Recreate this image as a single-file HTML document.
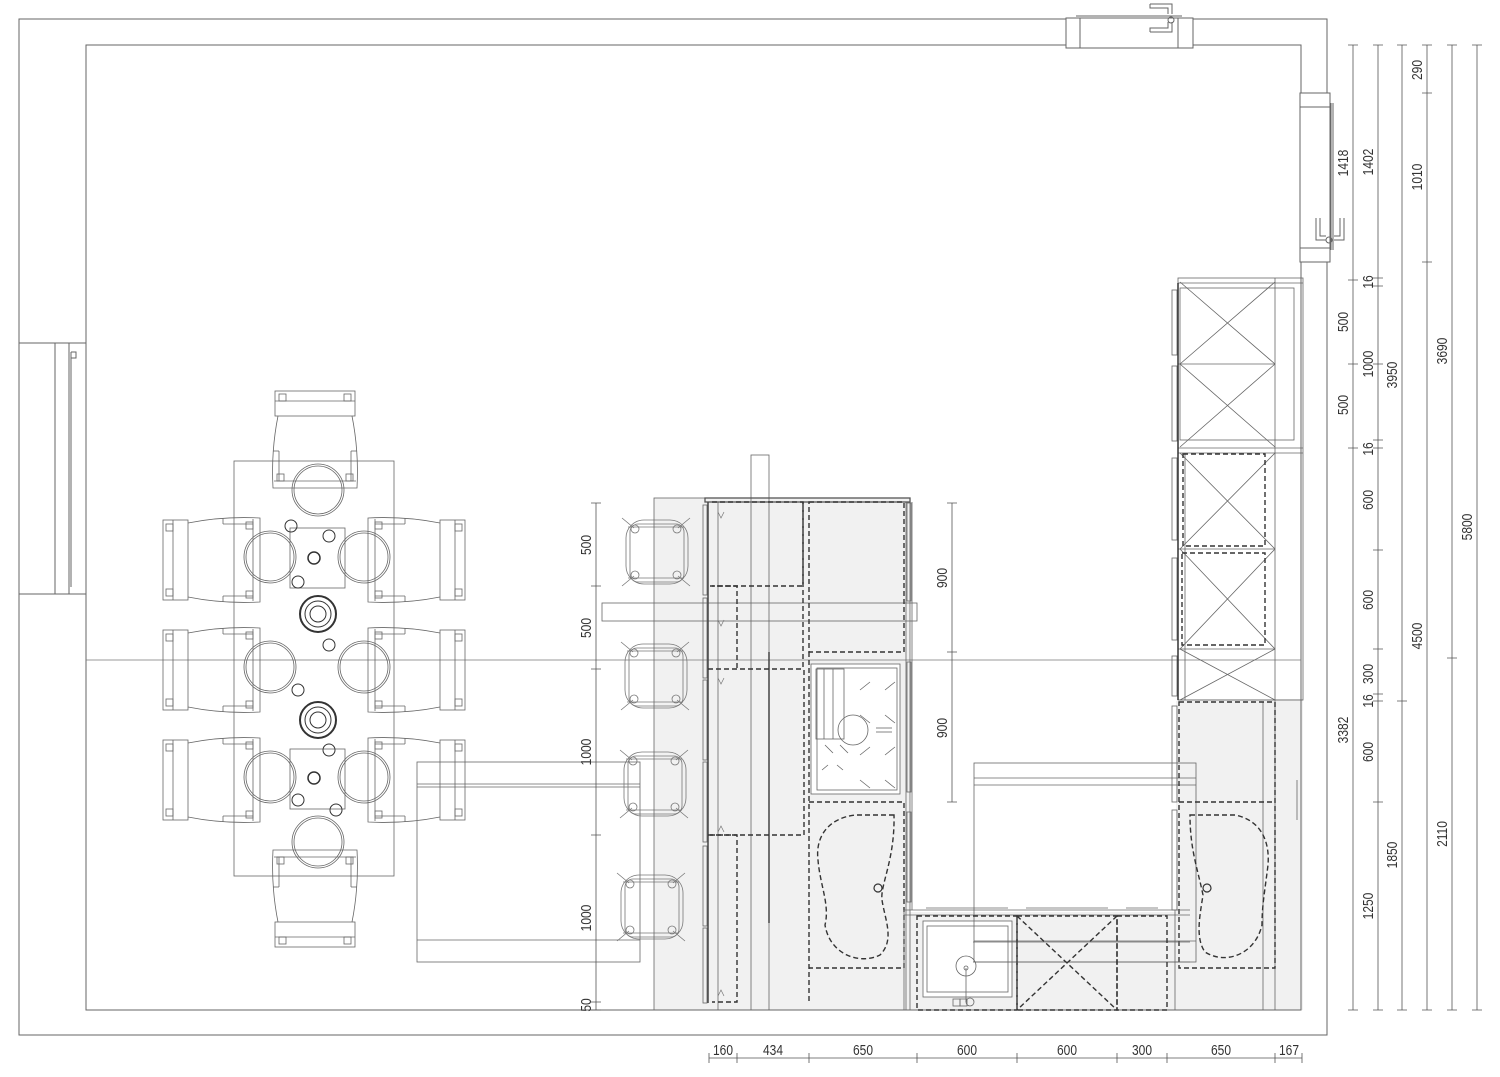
<!DOCTYPE html>
<html><head><meta charset="utf-8"><style>html,body{margin:0;padding:0;background:#fff}svg{display:block}text{font-family:"Liberation Sans Narrow","Liberation Sans",sans-serif;font-size:15px;fill:#333}</style></head><body>
<svg width="1500" height="1077" viewBox="0 0 1500 1077" xmlns="http://www.w3.org/2000/svg">
<defs>
<g id="chair" fill="none" stroke="#666" stroke-width="0.8">
<rect x="0" y="4" width="25" height="80"/>
<line x1="10" y1="4" x2="10" y2="84"/>
<path d="M25,7 Q60,0 97,2 L97,86 Q60,88 25,81"/>
<line x1="90" y1="3" x2="90" y2="85"/>
<line x1="60" y1="2" x2="60" y2="8"/><line x1="60" y1="8" x2="90" y2="8"/>
<line x1="60" y1="86" x2="60" y2="80"/><line x1="60" y1="80" x2="90" y2="80"/>
<rect x="3" y="8" width="7" height="7"/><rect x="3" y="73" width="7" height="7"/>
<rect x="83" y="6" width="7" height="7"/><rect x="83" y="75" width="7" height="7"/>
</g>
<g id="stool" fill="none" stroke="#777" stroke-width="0.8">
<rect x="-30" y="-32" width="62" height="64" rx="18"/>
<rect x="-26" y="-28" width="54" height="58" rx="8"/>
<line x1="-28" y1="-25" x2="28" y2="-25"/><line x1="-28" y1="26" x2="28" y2="26"/>
<line x1="-34" y1="-34" x2="-22" y2="-24"/><line x1="34" y1="-34" x2="22" y2="-24"/>
<line x1="-34" y1="34" x2="-22" y2="24"/><line x1="34" y1="34" x2="22" y2="24"/>
<circle cx="-21" cy="-23" r="4"/><circle cx="21" cy="-23" r="4"/>
<circle cx="-21" cy="23" r="4"/><circle cx="21" cy="23" r="4"/>
</g>
</defs>

<g fill="#f1f1f1" stroke="none">
<rect x="654" y="498" width="256" height="512"/>
<rect x="1176" y="701" width="127" height="309"/>
<rect x="910" y="912" width="266" height="98"/>
</g>
<rect x="811" y="664" width="89" height="130" fill="#fff"/>
<rect x="923" y="921" width="89" height="76" fill="#fff"/>

<g fill="none" stroke="#666" stroke-width="1">
<path d="M19,343 L19,19 L1066,19 M1193,19 L1327,19 L1327,93 M1327,262 L1327,1035 L19,1035 L19,594"/>
<path d="M86,343 L86,45 L1066,45 M1193,45 L1301,45 L1301,93 M1301,262 L1301,1010 L86,1010 L86,594"/>
<rect x="19" y="343" width="67" height="251"/>
<line x1="55" y1="343" x2="55" y2="594"/><line x1="69" y1="343" x2="69" y2="594"/>
<line x1="71" y1="352" x2="71" y2="587"/>
<path d="M71,352 h5 v6 h-5"/>
<rect x="1066" y="18" width="127" height="30"/>
<line x1="1080" y1="18" x2="1080" y2="48"/><line x1="1178" y1="18" x2="1178" y2="48"/>
<line x1="1076" y1="16" x2="1182" y2="16"/>
<path d="M1150,4 h22 v10 M1150,4 v4 h18 v6 M1150,32 h22 v-10 M1150,32 v-4 h18 v-6"/>
<circle cx="1171" cy="20" r="3"/>
<rect x="1300" y="93" width="30" height="169"/>
<line x1="1300" y1="107" x2="1330" y2="107"/><line x1="1300" y1="248" x2="1330" y2="248"/>
<line x1="1331" y1="103" x2="1331" y2="250"/><line x1="1333" y1="103" x2="1333" y2="250"/>
<path d="M1316,218 v22 h10 M1320,218 v18 h6 M1344,218 v22 h-10 M1340,218 v18 h-6"/>
<circle cx="1329" cy="240" r="3"/>
</g>

<line x1="86" y1="660" x2="1301" y2="660" stroke="#777" stroke-width="0.8"/>

<g fill="none" stroke="#666" stroke-width="0.8">
<rect x="234" y="461" width="160" height="415"/>
<rect x="290" y="528" width="55" height="60"/>
<rect x="290" y="749" width="55" height="60"/>
<g>
<circle cx="318" cy="490" r="26"/><circle cx="318" cy="490" r="24"/>
<circle cx="270" cy="557" r="26"/><circle cx="270" cy="557" r="24"/>
<circle cx="364" cy="557" r="26"/><circle cx="364" cy="557" r="24"/>
<circle cx="270" cy="667" r="26"/><circle cx="270" cy="667" r="24"/>
<circle cx="364" cy="667" r="26"/><circle cx="364" cy="667" r="24"/>
<circle cx="270" cy="777" r="26"/><circle cx="270" cy="777" r="24"/>
<circle cx="364" cy="777" r="26"/><circle cx="364" cy="777" r="24"/>
<circle cx="318" cy="842" r="26"/><circle cx="318" cy="842" r="24"/>
</g>
</g>
<g fill="none" stroke="#333">
<circle cx="318" cy="614" r="18" stroke-width="2"/><circle cx="318" cy="614" r="13"/><circle cx="318" cy="614" r="8"/>
<circle cx="318" cy="720" r="18" stroke-width="2"/><circle cx="318" cy="720" r="13"/><circle cx="318" cy="720" r="8"/>
<circle cx="314" cy="558" r="6" stroke-width="1.5"/><circle cx="314" cy="778" r="6" stroke-width="1.5"/>
<circle cx="291" cy="526" r="6"/><circle cx="329" cy="536" r="6"/><circle cx="298" cy="582" r="6"/>
<circle cx="329" cy="645" r="6"/><circle cx="298" cy="690" r="6"/>
<circle cx="329" cy="750" r="6"/><circle cx="298" cy="800" r="6"/><circle cx="336" cy="810" r="6"/>
</g>
<use href="#chair" transform="translate(163,516)"/>
<use href="#chair" transform="translate(163,626)"/>
<use href="#chair" transform="translate(163,736)"/>
<use href="#chair" transform="translate(465,516) scale(-1,1)"/>
<use href="#chair" transform="translate(465,626) scale(-1,1)"/>
<use href="#chair" transform="translate(465,736) scale(-1,1)"/>
<use href="#chair" transform="translate(359,391) rotate(90)"/>
<use href="#chair" transform="translate(271,947) rotate(-90)"/>

<g fill="none" stroke="#666" stroke-width="0.8">
<rect x="417" y="762" width="223" height="200"/>
<line x1="417" y1="784" x2="640" y2="784"/><line x1="417" y1="787" x2="640" y2="787"/>
<line x1="417" y1="940" x2="640" y2="940"/>
<rect x="974" y="763" width="222" height="199"/>
<line x1="974" y1="778" x2="1196" y2="778"/><line x1="974" y1="785" x2="1196" y2="785"/>
<line x1="974" y1="941" x2="1196" y2="941"/>
</g>

<use href="#stool" transform="translate(656,552)"/>
<use href="#stool" transform="translate(655,676)"/>
<use href="#stool" transform="translate(654,784)"/>
<use href="#stool" transform="translate(651,907)"/>

<g fill="none" stroke="#666" stroke-width="0.8">
<rect x="654" y="498" width="256" height="512"/>
<rect x="751" y="455" width="18" height="555"/>
<rect x="602" y="603" width="315" height="18"/>
<line x1="718" y1="502" x2="718" y2="1010"/>
<line x1="906" y1="502" x2="906" y2="1010"/>
<line x1="912" y1="502" x2="912" y2="910"/>
<rect x="703" y="505" width="4" height="90"/><rect x="703" y="598" width="4" height="80"/>
<rect x="703" y="680" width="4" height="80"/><rect x="703" y="762" width="4" height="80"/>
<rect x="703" y="846" width="4" height="80"/><rect x="703" y="928" width="4" height="75"/>
<rect x="907" y="503" width="4" height="98"/><rect x="907" y="662" width="4" height="130"/>
<rect x="907" y="812" width="4" height="90"/>
<rect x="811" y="664" width="89" height="130"/>
<rect x="817" y="668" width="80" height="122"/>
<rect x="816" y="669" width="28" height="70"/><line x1="824" y1="669" x2="824" y2="739"/><line x1="833" y1="669" x2="833" y2="739"/>
<circle cx="853" cy="730" r="15"/>
<path d="M860,690 l10,-8 M885,690 l10,-8 M860,715 l10,8 M885,715 l10,8 M825,745 l8,8 M840,745 l8,8 M860,755 l10,-8 M885,755 l10,-8 M860,780 l10,8 M885,780 l10,8 M822,770 l6,-5 M837,765 l6,5"/>
<line x1="876" y1="728" x2="892" y2="728"/><line x1="876" y1="732" x2="892" y2="732"/>
<rect x="705" y="498" width="205" height="4" fill="none" stroke="#555" stroke-width="1.3"/>
</g>
<line x1="708" y1="502" x2="708" y2="1003" stroke="#444" stroke-width="1.5"/>
<line x1="769" y1="652" x2="769" y2="923" stroke="#444" stroke-width="1.5"/>
<g fill="none" stroke="#333" stroke-width="1.4" stroke-dasharray="5,3">
<path d="M712,502 L803,502 L803,586 L712,586"/>
<path d="M809,502 L904,502 L904,652 L809,652 Z"/>
<path d="M803,502 L803,669"/>
<path d="M710,586 L737,586 L737,669 M708,669 L803,669"/>
<path d="M809,652 L809,1002"/>
<path d="M708,835 L804,835 L804,669"/>
<path d="M710,835 L737,835 L737,1002 L712,1002"/>
<path d="M809,802 L904,802 L904,968 L809,968"/>
<path d="M894,815 L855,815 C830,818 815,835 818,860 C820,885 830,905 825,925 C830,955 860,965 880,955 C895,940 885,920 882,900 C880,885 895,860 894,815 Z"/>
</g>
<circle cx="878" cy="888" r="4" fill="none" stroke="#333" stroke-width="1.2"/>
<path d="M718,512 l3,6 l3,-6 M718,620 l3,6 l3,-6 M718,678 l3,6 l3,-6 M718,832 l3,-6 l3,6 M718,996 l3,-6 l3,6" fill="none" stroke="#777" stroke-width="0.7"/>

<g fill="none" stroke="#666" stroke-width="0.8">
<rect x="1178" y="278" width="125" height="422"/>
<line x1="1178" y1="283" x2="1303" y2="283"/>
<line x1="1275" y1="278" x2="1275" y2="1010"/>
<rect x="1180" y="288" width="114" height="152"/>
<path d="M1180,282 L1275,364 M1275,282 L1180,364 M1180,364 L1275,447 M1275,364 L1180,447"/>
<line x1="1178" y1="364" x2="1275" y2="364"/>
<line x1="1178" y1="448" x2="1303" y2="448"/><line x1="1178" y1="453" x2="1303" y2="453"/>
<line x1="1178" y1="549" x2="1275" y2="549"/><line x1="1178" y1="649" x2="1275" y2="649"/>
<line x1="1178" y1="700" x2="1303" y2="700"/>
<line x1="1185" y1="453" x2="1185" y2="700"/>
<path d="M1180,453 L1275,549 M1275,453 L1180,549 M1180,549 L1275,649 M1275,549 L1180,649 M1180,649 L1275,700 M1275,649 L1180,700"/>
<rect x="1172" y="290" width="5" height="65"/><rect x="1172" y="366" width="5" height="75"/>
<rect x="1172" y="458" width="5" height="82"/><rect x="1172" y="558" width="5" height="82"/>
<rect x="1172" y="656" width="5" height="40"/><rect x="1172" y="706" width="5" height="96"/>
<rect x="1172" y="810" width="5" height="100"/>
<line x1="1263" y1="702" x2="1263" y2="1010"/>
<line x1="1297" y1="780" x2="1297" y2="820"/>
</g>
<line x1="1178" y1="283" x2="1178" y2="700" stroke="#333" stroke-width="1.5"/>
<g fill="none" stroke="#333" stroke-width="1.4" stroke-dasharray="5,3">
<rect x="1183" y="454" width="82" height="92"/>
<rect x="1182" y="553" width="83" height="92"/>
<path d="M1179,702 L1275,702 L1275,968 L1179,968 Z"/>
<path d="M1179,802 L1275,802"/>
<path d="M1190,815 L1235,815 C1260,820 1270,840 1268,865 C1265,890 1262,905 1262,925 C1255,955 1225,965 1205,952 C1195,938 1200,915 1203,895 C1198,870 1190,850 1190,815 Z"/>
</g>
<circle cx="1207" cy="888" r="4" fill="none" stroke="#333" stroke-width="1.2"/>

<g fill="none" stroke="#666" stroke-width="0.8">
<line x1="904" y1="910" x2="1190" y2="910"/><line x1="904" y1="915" x2="1190" y2="915"/>
<line x1="904" y1="910" x2="904" y2="1010"/>
<line x1="1175" y1="910" x2="1175" y2="1010"/>
<rect x="923" y="921" width="89" height="76"/>
<rect x="927" y="926" width="81" height="66"/>
<circle cx="966" cy="966" r="10"/><circle cx="966" cy="968" r="2"/>
<line x1="966" y1="968" x2="966" y2="1002"/>
<rect x="953" y="999" width="7" height="7"/><rect x="960" y="999" width="7" height="7"/><circle cx="970" cy="1002" r="4"/>
<line x1="926" y1="908" x2="1008" y2="908"/><line x1="1026" y1="908" x2="1108" y2="908"/><line x1="1126" y1="908" x2="1158" y2="908"/>
<line x1="973" y1="942" x2="1190" y2="942"/><line x1="973" y1="962" x2="1190" y2="962"/>
</g>
<g fill="none" stroke="#333" stroke-width="1.4" stroke-dasharray="5,3">
<rect x="917" y="916" width="100" height="94"/>
<rect x="1017" y="916" width="100" height="94"/>
<rect x="1117" y="916" width="50" height="94"/>
<path d="M1017,916 L1117,1010 M1117,916 L1017,1010"/>
</g>

<g fill="none" stroke="#555" stroke-width="0.8">
<line x1="1353" y1="45" x2="1353" y2="1010"/>
<line x1="1378" y1="45" x2="1378" y2="1010"/>
<line x1="1402" y1="45" x2="1402" y2="1010"/>
<line x1="1427" y1="45" x2="1427" y2="1010"/>
<line x1="1452" y1="45" x2="1452" y2="1010"/>
<line x1="1477" y1="45" x2="1477" y2="1010"/>
<path d="M1348,45 h10 M1373,45 h10 M1397,45 h10 M1422,45 h10 M1447,45 h10 M1472,45 h10
M1348,1010 h10 M1373,1010 h10 M1397,1010 h10 M1422,1010 h10 M1447,1010 h10 M1472,1010 h10
M1348,280 h10 M1348,364 h10 M1348,448 h10
M1373,278 h10 M1373,286 h10 M1373,364 h10 M1373,440 h10 M1373,448 h10 M1373,550 h10 M1373,649 h10 M1373,694 h10 M1373,701 h10 M1373,802 h10
M1397,701 h10 M1422,93 h10 M1422,262 h10 M1447,658 h10"/>
<line x1="596" y1="503" x2="596" y2="1010"/>
<path d="M591,503 h10 M591,586 h10 M591,669 h10 M591,835 h10 M591,1002 h10 M591,1010 h10"/>
<line x1="952" y1="503" x2="952" y2="802"/>
<path d="M947,503 h10 M947,652 h10 M947,802 h10"/>
<line x1="709" y1="1058" x2="1302" y2="1058"/>
<path d="M709,1053 v10 M737,1053 v10 M809,1053 v10 M917,1053 v10 M1017,1053 v10 M1117,1053 v10 M1167,1053 v10 M1275,1053 v10 M1302,1053 v10"/>
</g>

<g text-anchor="middle">
<text transform="translate(723,1055) scale(0.8,1)">160</text>
<text transform="translate(773,1055) scale(0.8,1)">434</text>
<text transform="translate(863,1055) scale(0.8,1)">650</text>
<text transform="translate(967,1055) scale(0.8,1)">600</text>
<text transform="translate(1067,1055) scale(0.8,1)">600</text>
<text transform="translate(1142,1055) scale(0.8,1)">300</text>
<text transform="translate(1221,1055) scale(0.8,1)">650</text>
<text transform="translate(1289,1055) scale(0.8,1)">167</text>
</g>
<g text-anchor="middle">
<text transform="translate(591,545) rotate(-90) scale(0.8,1)">500</text>
<text transform="translate(591,628) rotate(-90) scale(0.8,1)">500</text>
<text transform="translate(591,752) rotate(-90) scale(0.8,1)">1000</text>
<text transform="translate(591,918) rotate(-90) scale(0.8,1)">1000</text>
<text transform="translate(591,1005) rotate(-90) scale(0.8,1)">50</text>
<text transform="translate(947,578) rotate(-90) scale(0.8,1)">900</text>
<text transform="translate(947,728) rotate(-90) scale(0.8,1)">900</text>
<text transform="translate(1348,163) rotate(-90) scale(0.8,1)">1418</text>
<text transform="translate(1348,322) rotate(-90) scale(0.8,1)">500</text>
<text transform="translate(1348,405) rotate(-90) scale(0.8,1)">500</text>
<text transform="translate(1348,730) rotate(-90) scale(0.8,1)">3382</text>
<text transform="translate(1373,162) rotate(-90) scale(0.8,1)">1402</text>
<text transform="translate(1373,282) rotate(-90) scale(0.8,1)">16</text>
<text transform="translate(1373,364) rotate(-90) scale(0.8,1)">1000</text>
<text transform="translate(1373,449) rotate(-90) scale(0.8,1)">16</text>
<text transform="translate(1373,500) rotate(-90) scale(0.8,1)">600</text>
<text transform="translate(1373,600) rotate(-90) scale(0.8,1)">600</text>
<text transform="translate(1373,674) rotate(-90) scale(0.8,1)">300</text>
<text transform="translate(1373,701) rotate(-90) scale(0.8,1)">16</text>
<text transform="translate(1373,752) rotate(-90) scale(0.8,1)">600</text>
<text transform="translate(1373,906) rotate(-90) scale(0.8,1)">1250</text>
<text transform="translate(1397,375) rotate(-90) scale(0.8,1)">3950</text>
<text transform="translate(1397,855) rotate(-90) scale(0.8,1)">1850</text>
<text transform="translate(1422,70) rotate(-90) scale(0.8,1)">290</text>
<text transform="translate(1422,177) rotate(-90) scale(0.8,1)">1010</text>
<text transform="translate(1422,636) rotate(-90) scale(0.8,1)">4500</text>
<text transform="translate(1447,351) rotate(-90) scale(0.8,1)">3690</text>
<text transform="translate(1447,834) rotate(-90) scale(0.8,1)">2110</text>
<text transform="translate(1472,527) rotate(-90) scale(0.8,1)">5800</text>
</g>
</svg>
</body></html>
